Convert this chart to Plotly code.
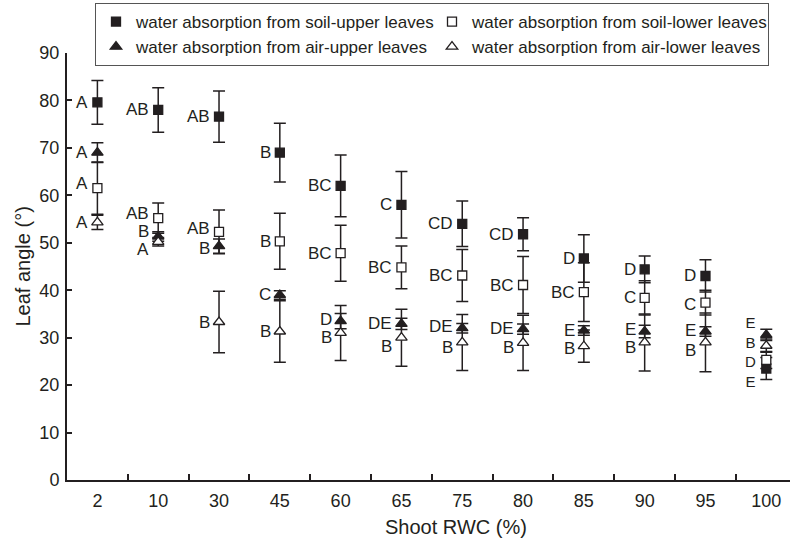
import plotly.graph_objects as go

categories = ["2", "10", "30", "45", "60", "65", "75", "80", "85", "90", "95", "100"]

soil_upper = [79.6, 78.0, 76.6, 69.0, 62.0, 58.0, 54.0, 51.8, 46.7, 44.4, 43.0, 23.5]
soil_upper_err = [4.6, 4.7, 5.4, 6.2, 6.5, 7.0, 4.8, 3.5, 5.0, 2.8, 3.4, 2.3]
soil_lower = [61.5, 55.2, 52.3, 50.3, 47.8, 44.8, 43.1, 41.1, 39.6, 38.4, 37.4, 25.3]
soil_lower_err = [5.5, 3.2, 4.6, 5.9, 5.9, 4.5, 5.5, 6.0, 6.2, 3.6, 2.6, 1.8]
air_upper = [69.0, 51.3, 49.3, 39.0, 33.5, 32.9, 32.0, 31.8, 31.5, 31.3, 31.3, 30.6]
air_upper_err = [2.1, 1.0, 1.5, 0.9, 1.6, 1.2, 1.0, 1.1, 1.0, 1.3, 1.0, 1.2]
air_lower = [54.3, 50.2, 33.3, 31.3, 31.0, 30.0, 29.0, 28.9, 28.2, 29.0, 29.0, 28.3]
air_lower_err = [1.5, 0.9, 6.5, 6.5, 5.8, 6.0, 5.9, 5.8, 3.4, 6.0, 6.2, 1.4]

lab_soil_upper = ["A", "AB", "AB", "B", "BC", "C", "CD", "CD", "D", "D", "D", "E"]
lab_soil_lower = ["A", "AB", "AB", "B", "BC", "BC", "BC", "BC", "BC", "C", "C", "D"]
lab_air_upper = ["A", "B", "B", "C", "D", "DE", "DE", "DE", "E", "E", "E", "E"]
lab_air_lower = ["A", "A", "B", "B", "B", "B", "B", "B", "B", "B", "B", "B"]

# vertical nudges of the letter labels (data units)
nud_soil_upper = [0, 0, 0, 0, 0, 0, 0, 0, 0, 0, 0, 0]
nud_soil_lower = [1.0, 1.0, 0.8, 0, 0, 0, 0, 0, 0, 0, -0.5, 0]
nud_air_upper = [0, 1.0, -0.4, 0, 0.4, 0, 0.3, 0.2, 0.1, 0.4, 0.3, 0]
nud_air_lower = [0, -1.6, 0, 0, -1.0, -1.8, -1.1, -0.9, -0.4, -1.1, -1.6, 0]

names = [
    "water absorption from soil-upper leaves",
    "water absorption from soil-lower leaves",
    "water absorption from air-upper leaves",
    "water absorption from air-lower leaves",
]

INK = "#231f20"
FONT = "Liberation Sans, Arial, sans-serif"

series = [
    (soil_upper, soil_upper_err, lab_soil_upper, nud_soil_upper, "square", INK, 9),
    (soil_lower, soil_lower_err, lab_soil_lower, nud_soil_lower, "square", "white", 9),
    (air_upper, air_upper_err, lab_air_upper, nud_air_upper, "triangle-up", INK, 10),
    (air_lower, air_lower_err, lab_air_lower, nud_air_lower, "triangle-up", "white", 10),
]

fig = go.Figure()
for name, (vals, errs, labs, nud, sym, col, sz) in zip(names, series):
    fig.add_trace(go.Scatter(
        x=categories, y=vals, name=name, mode="markers",
        marker=dict(symbol=sym, size=sz, color=col,
                    line=dict(color=INK, width=1.3)),
        error_y=dict(type="data", array=errs, visible=True,
                     color=INK, thickness=1.5, width=6),
        cliponaxis=False,
    ))

annotations = []
last = len(categories) - 1
for name, (vals, errs, labs, nud, sym, col, sz) in zip(names, series):
    for i, (v, l, n) in enumerate(zip(vals, labs, nud)):
        if i == last:
            continue
        annotations.append(dict(
            x=i, y=v + n, xref="x", yref="y", text=l, showarrow=False,
            xanchor="right", yanchor="middle", xshift=-7,
            font=dict(family=FONT, size=17, color=INK)))

# crowded last column: one stacked label, ordered from top to bottom
stack = sorted(zip([s[0][last] for s in series], [s[2][last] for s in series]),
               reverse=True)
mid = (stack[0][0] + stack[-1][0]) / 2
annotations.append(dict(
    x=last, y=mid, xref="x", yref="y",
    text="<br>".join(l for _, l in stack), showarrow=False,
    xanchor="right", yanchor="middle", xshift=-8, align="center",
    font=dict(family=FONT, size=15, color=INK)))

annotations.append(dict(
    x=(456 - 67) / 723, y=-0.11, xref="paper", yref="paper",
    text="Shoot RWC (%)", showarrow=False, xanchor="center", yanchor="middle",
    font=dict(family=FONT, size=20, color=INK)))
annotations.append(dict(
    x=(22 - 67) / 723, y=0.5, xref="paper", yref="paper",
    text="Leaf angle (°)", showarrow=False, textangle=-90,
    xanchor="center", yanchor="middle",
    font=dict(family=FONT, size=20, color=INK)))

fig.update_layout(
    width=790, height=541,
    margin=dict(l=67, r=0, t=53, b=61),
    paper_bgcolor="white", plot_bgcolor="white",
    font=dict(family=FONT, size=17, color=INK),
    annotations=annotations,
    legend=dict(
        orientation="h", x=(95 - 67) / 723, y=(480 - 3) / 427,
        xanchor="left", yanchor="top",
        bordercolor="#555555", borderwidth=1, bgcolor="white",
        entrywidth=291, entrywidthmode="pixels",
        font=dict(family=FONT, size=17, color=INK),
        itemsizing="trace",
    ),
    xaxis=dict(
        type="category", range=[-0.5, 11.39],
        showline=True, linewidth=2, linecolor=INK, mirror=False,
        ticks="inside", ticklen=6, tickwidth=2, tickcolor=INK,
        tickson="boundaries", showgrid=False, zeroline=False,
        tickfont=dict(family=FONT, size=18, color=INK),
        ticklabelstandoff=3,
    ),
    yaxis=dict(
        range=[0, 90], dtick=10, tick0=0,
        showline=True, linewidth=2, linecolor=INK,
        ticks="inside", ticklen=5, tickwidth=2, tickcolor=INK,
        showgrid=False, zeroline=False,
        tickfont=dict(family=FONT, size=18, color=INK),
        ticklabelstandoff=2,
    ),
)

fig.write_html("out.html")
